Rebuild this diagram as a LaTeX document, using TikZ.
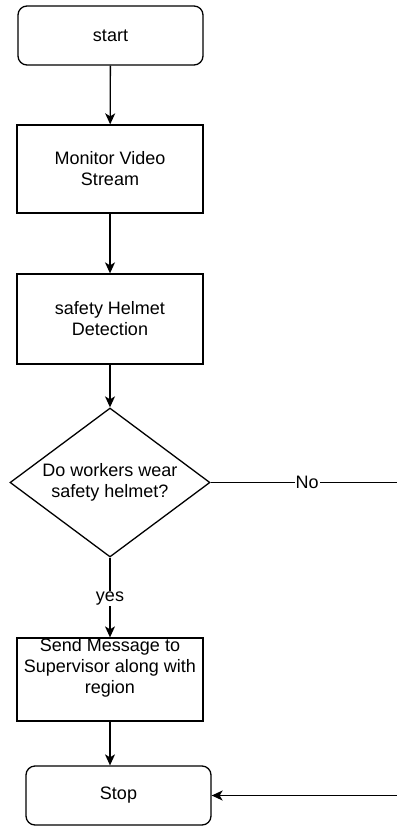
\documentclass[tikz,border=0pt]{standalone}
\usepackage{fontspec}
\setmainfont{Liberation Sans}
\usetikzlibrary{shapes.geometric,arrows.meta}
\begin{document}
\begin{tikzpicture}[x=1pt,y=-1pt,
  every node/.style={font=\fontsize{18pt}{21pt}\selectfont},
  procbox/.style={draw, line width=1.3pt, minimum width=186pt, inner sep=0pt, align=center},
  termbox/.style={draw, line width=1.3pt, rounded corners=9pt, minimum width=185pt, minimum height=59pt, inner sep=0pt},
  decbox/.style={draw, diamond, line width=1.3pt, minimum width=200pt, minimum height=149pt, aspect=1.34, inner sep=0pt, align=center},
  lbl/.style={fill=white, inner sep=1pt},
  conn/.style={line width=1.3pt, -{Stealth[length=11pt,width=10pt,inset=3pt]}},
  plain/.style={line width=1.3pt}]
\useasboundingbox (0,0) rectangle (396,826);
\node[termbox] (start) at (110.5,35.5) {start};
\node[procbox, minimum height=88pt] (mon) at (110,169) {Monitor Video\\Stream};
\node[procbox, minimum height=90pt] (helm) at (110,319) {safety Helmet\\Detection};
\node[decbox] (dec) at (110,482.5) {Do workers wear\\safety helmet?};
\node[procbox, minimum height=83pt] (send) at (110,679.5) {};
\node[align=center, inner sep=0pt] (sendtxt) at (110,668) {Send Message to\\Supervisor along with\\region};
\node[termbox] (stop) at (118.5,795.5) {Stop};
\coordinate (r1) at (400,482.5);
\coordinate (r2) at (400,795.5);
\draw[conn] (start) -- (mon);
\draw[conn] (mon) -- (helm);
\draw[conn] (helm) -- (dec);
\draw[conn] (dec.south) -- node[lbl, pos=0.51] (yes) {yes} (send.north);
\draw[conn] (send) -- (stop.north -| send);
\draw[plain] (dec.east) -- node[lbl, pos=0.51] (no) {No} (r1) -- (r2);
\draw[conn] (r2) -- (stop.east);
\end{tikzpicture}
\end{document}
